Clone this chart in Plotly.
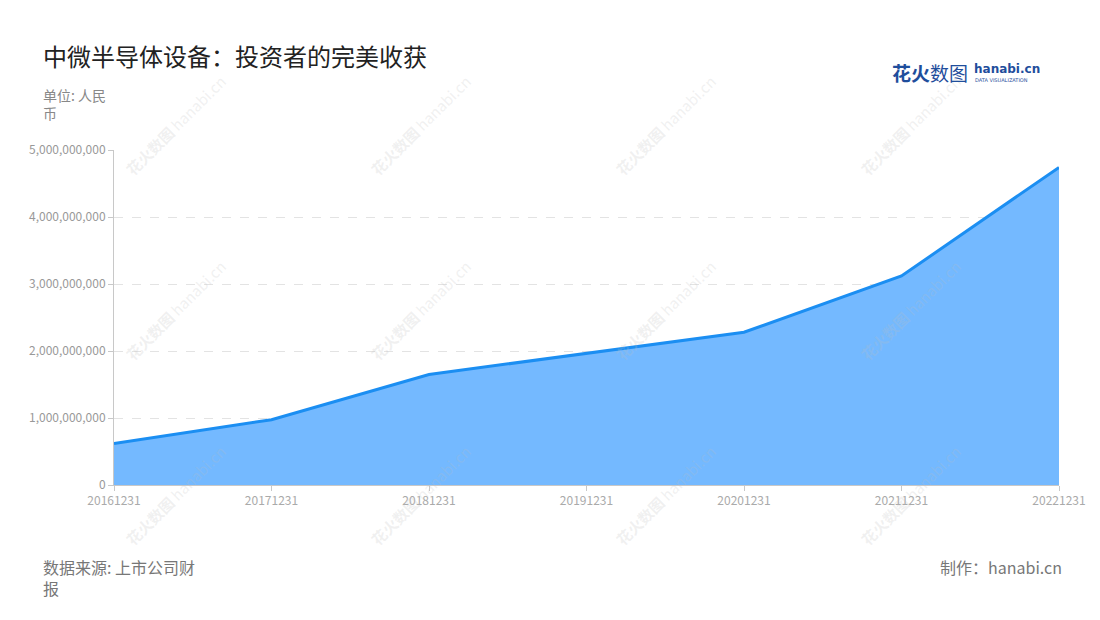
import plotly.graph_objects as go

# data
dates = ["20161231", "20171231", "20181231", "20191231",
         "20201231", "20211231", "20221231"]
investor_gain = [620e6, 975e6, 1650e6, 1960e6, 2280e6, 3120e6, 4740e6]
y_ticks = [0, 1e9, 2e9, 3e9, 4e9, 5e9]

FONT = "Noto Sans CJK SC"
LINE_COLOR = "#1b8ef2"
FILL_COLOR = "rgb(116,185,255)"

W, H = 1100, 620
MARGIN = {"l": 106, "r": 49, "t": 142, "b": 143}
PAGE_OFFSET = 8  # body margin of the html page


def px(x, y):
    """screen pixel -> paper coordinates"""
    plot_w = W - MARGIN["l"] - MARGIN["r"]
    plot_h = H - MARGIN["t"] - MARGIN["b"]
    return ((x - PAGE_OFFSET - MARGIN["l"]) / plot_w,
            (H - MARGIN["b"] - (y - PAGE_OFFSET)) / plot_h)


def add_text(fig, x, y, text, size, color, xanchor="left",
             family=FONT, angle=0, align="left"):
    ax, ay = px(x, y)
    fig.add_annotation(
        x=ax, y=ay, xref="paper", yref="paper",
        text=text, showarrow=False, textangle=angle,
        xanchor=xanchor, yanchor="middle", align=align,
        font={"family": family, "size": size, "color": color}
    )


fig = go.Figure()

fig.add_trace(
    go.Scatter(
        x=dates,
        y=investor_gain,
        mode="lines",
        line={"color": LINE_COLOR, "width": 3},
        fill="tozeroy",
        fillcolor=FILL_COLOR,
        showlegend=False,
        hoverinfo="x+y"
    )
)

# faint watermark grid
for wx in [175, 420, 665, 910]:
    for wy in [125, 310, 495]:
        add_text(fig, wx, wy, "<b>花火数图</b> hanabi.cn", 15,
                 "rgba(190,190,190,0.22)", xanchor="center", angle=-45)

# title, unit, footer
add_text(fig, 41, 55, "中微半导体设备：投资者的完美收获", 24, "#222222")
add_text(fig, 41, 104, "单位: 人民<br>币", 14, "#888888")
add_text(fig, 41, 577, "数据来源: 上市公司财<br>报", 16, "#777777")
add_text(fig, 1064, 567, "制作：hanabi.cn", 16, "#777777", xanchor="right")

# logo
add_text(fig, 890, 73, "<b>花火</b>数图", 19, "#1f4e9c")
add_text(fig, 972, 69, "<b>hanabi.cn</b>", 12, "#1f4e9c",
         family="DejaVu Sans")
add_text(fig, 973, 80, "DATA VISUALIZATION", 5, "#1f4e9c",
         family="DejaVu Sans")

fig.update_layout(
    width=W,
    height=H,
    margin=MARGIN,
    paper_bgcolor="white",
    plot_bgcolor="white",
    font={"family": FONT, "color": "#999999"},
    xaxis={
        "type": "category",
        "range": [0, 6],
        "showgrid": False,
        "showline": True,
        "linecolor": "#c8c8c8",
        "linewidth": 1,
        "ticks": "outside",
        "tickcolor": "#c8c8c8",
        "ticklen": 5,
        "tickfont": {"size": 12, "color": "#aaaaaa"},
        "zeroline": False,
    },
    yaxis={
        "range": [0, 5e9],
        "tickvals": y_ticks,
        "tickformat": ",d",
        "showgrid": True,
        "gridcolor": "#e3e3e3",
        "griddash": "dash",
        "showline": True,
        "linecolor": "#c8c8c8",
        "linewidth": 1,
        "ticks": "outside",
        "tickcolor": "#c8c8c8",
        "ticklen": 5,
        "tickfont": {"size": 12, "color": "#999999"},
        "zeroline": False,
    },
)

fig.write_html("out.html")
